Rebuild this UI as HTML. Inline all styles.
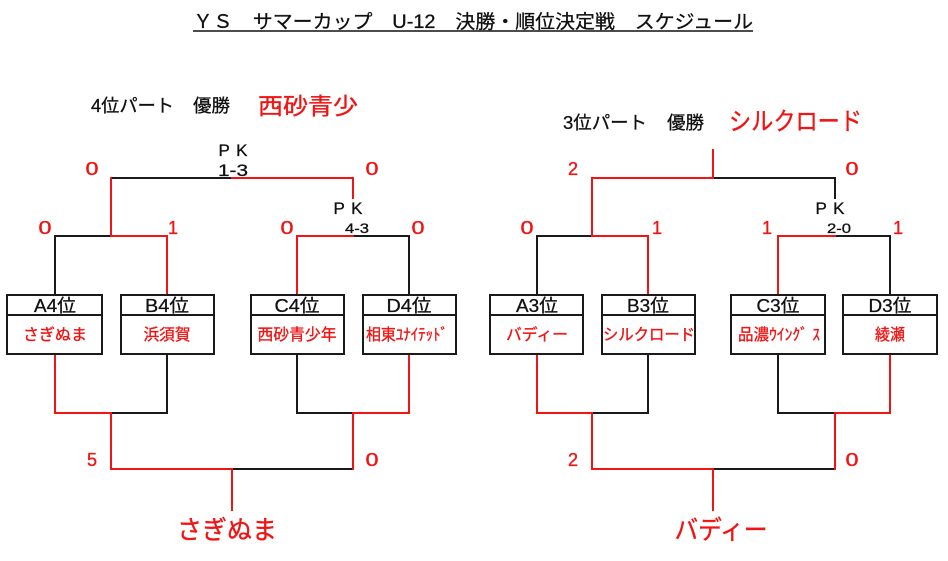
<!DOCTYPE html>
<html><head><meta charset="utf-8">
<style>
html,body{margin:0;padding:0;background:#fff;}
svg{display:block;}
text{font-family:"Liberation Sans","Noto Sans CJK JP",sans-serif;}
.r{fill:#f01414;stroke:#f01414;stroke-width:0.35;}
.k{fill:#111;stroke:#111;stroke-width:0.3;}
.lr{stroke:#f01414;stroke-width:2;fill:none;stroke-linecap:square;}
.lk{stroke:#1a1a1a;stroke-width:2;fill:none;stroke-linecap:square;}
.bx{stroke:#1a1a1a;stroke-width:2;fill:#fff;}
</style></head>
<body>
<svg width="948" height="561" viewBox="0 0 948 561" xmlns="http://www.w3.org/2000/svg">
<!-- Title -->
<text x="193" y="28" font-size="19" class="k" textLength="560" lengthAdjust="spacingAndGlyphs">ＹＳ　サマーカップ　U-12　決勝・順位決定戦　スケジュール</text>
<line x1="193" y1="31" x2="753" y2="31" stroke="#111" stroke-width="1.5"/>

<!-- Left header -->
<text x="91" y="112" font-size="18" class="k" textLength="83" lengthAdjust="spacingAndGlyphs">4位パート</text>
<text x="193" y="112" font-size="18" class="k" textLength="37" lengthAdjust="spacingAndGlyphs">優勝</text>
<text x="258" y="114" font-size="23" class="r" textLength="100" lengthAdjust="spacingAndGlyphs">西砂青少</text>

<!-- Right header -->
<text x="563" y="129" font-size="18" class="k" textLength="84" lengthAdjust="spacingAndGlyphs">3位パート</text>
<text x="667" y="129" font-size="18" class="k" textLength="37" lengthAdjust="spacingAndGlyphs">優勝</text>
<text x="729" y="130" font-size="25" class="r" textLength="133" lengthAdjust="spacingAndGlyphs">シルクロード</text>

<!-- LEFT BRACKET lines -->
<g class="lk">
<line x1="111" y1="178" x2="232" y2="178"/>
<line x1="55" y1="236" x2="111" y2="236"/>
<line x1="55" y1="236" x2="55" y2="295"/>
<line x1="353" y1="236" x2="409" y2="236"/>
<line x1="409" y1="236" x2="409" y2="295"/>
<line x1="111" y1="413" x2="167" y2="413"/>
<line x1="167" y1="354" x2="167" y2="413"/>
<line x1="297" y1="354" x2="297" y2="413"/>
<line x1="297" y1="413" x2="353" y2="413"/>
<line x1="232" y1="469" x2="353" y2="469"/>
</g>
<g class="lr">
<line x1="232" y1="178" x2="353" y2="178"/>
<line x1="353" y1="178" x2="353" y2="198"/>
<line x1="111" y1="178" x2="111" y2="236"/>
<line x1="111" y1="236" x2="167" y2="236"/>
<line x1="167" y1="236" x2="167" y2="295"/>
<line x1="297" y1="236" x2="353" y2="236"/>
<line x1="297" y1="236" x2="297" y2="295"/>
<line x1="55" y1="354" x2="55" y2="413"/>
<line x1="55" y1="413" x2="111" y2="413"/>
<line x1="353" y1="413" x2="409" y2="413"/>
<line x1="409" y1="354" x2="409" y2="413"/>
<line x1="111" y1="413" x2="111" y2="469"/>
<line x1="353" y1="413" x2="353" y2="469"/>
<line x1="111" y1="469" x2="232" y2="469"/>
<line x1="232" y1="469" x2="232" y2="510"/>
</g>

<!-- RIGHT BRACKET lines -->
<g class="lk">
<line x1="713" y1="178" x2="835" y2="178"/>
<line x1="835" y1="178" x2="835" y2="198"/>
<line x1="537" y1="236" x2="592" y2="236"/>
<line x1="537" y1="236" x2="537" y2="295"/>
<line x1="835" y1="236" x2="890" y2="236"/>
<line x1="890" y1="236" x2="890" y2="295"/>
<line x1="592" y1="413" x2="648" y2="413"/>
<line x1="648" y1="354" x2="648" y2="413"/>
<line x1="778" y1="354" x2="778" y2="413"/>
<line x1="778" y1="413" x2="835" y2="413"/>
<line x1="713" y1="469" x2="835" y2="469"/>
</g>
<g class="lr">
<line x1="713" y1="150" x2="713" y2="178"/>
<line x1="592" y1="178" x2="713" y2="178"/>
<line x1="592" y1="178" x2="592" y2="236"/>
<line x1="592" y1="236" x2="648" y2="236"/>
<line x1="648" y1="236" x2="648" y2="295"/>
<line x1="778" y1="236" x2="835" y2="236"/>
<line x1="778" y1="236" x2="778" y2="295"/>
<line x1="537" y1="354" x2="537" y2="413"/>
<line x1="537" y1="413" x2="592" y2="413"/>
<line x1="835" y1="413" x2="890" y2="413"/>
<line x1="890" y1="354" x2="890" y2="413"/>
<line x1="592" y1="413" x2="592" y2="469"/>
<line x1="835" y1="413" x2="835" y2="469"/>
<line x1="592" y1="469" x2="713" y2="469"/>
<line x1="713" y1="469" x2="713" y2="510"/>
</g>

<!-- Boxes -->
<g class="bx">
<rect x="7" y="295" width="95" height="59"/>
<rect x="121" y="295" width="93" height="59"/>
<rect x="251" y="295" width="93" height="59"/>
<rect x="363" y="295" width="93" height="59"/>
<rect x="490" y="295" width="93" height="59"/>
<rect x="602" y="295" width="93" height="59"/>
<rect x="731" y="295" width="94" height="59"/>
<rect x="843" y="295" width="94" height="59"/>
</g>
<g stroke="#1a1a1a" stroke-width="2">
<line x1="7" y1="315" x2="102" y2="315"/>
<line x1="121" y1="315" x2="214" y2="315"/>
<line x1="251" y1="315" x2="344" y2="315"/>
<line x1="363" y1="315" x2="456" y2="315"/>
<line x1="490" y1="315" x2="583" y2="315"/>
<line x1="602" y1="315" x2="695" y2="315"/>
<line x1="731" y1="315" x2="825" y2="315"/>
<line x1="843" y1="315" x2="937" y2="315"/>
</g>

<!-- Box header texts -->
<g class="k" font-size="18" text-anchor="middle">
<text x="55" y="312" textLength="42" lengthAdjust="spacingAndGlyphs">A4位</text>
<text x="167" y="312" textLength="44" lengthAdjust="spacingAndGlyphs">B4位</text>
<text x="297" y="312" textLength="45" lengthAdjust="spacingAndGlyphs">C4位</text>
<text x="409" y="312" textLength="45" lengthAdjust="spacingAndGlyphs">D4位</text>
<text x="537" y="312" textLength="42" lengthAdjust="spacingAndGlyphs">A3位</text>
<text x="648" y="312" textLength="42" lengthAdjust="spacingAndGlyphs">B3位</text>
<text x="778" y="312" textLength="43" lengthAdjust="spacingAndGlyphs">C3位</text>
<text x="890" y="312" textLength="43" lengthAdjust="spacingAndGlyphs">D3位</text>
</g>
<!-- Box names -->
<g class="r" font-size="16" text-anchor="middle">
<text x="55" y="340" textLength="64" lengthAdjust="spacingAndGlyphs">さぎぬま</text>
<text x="167" y="340" textLength="47" lengthAdjust="spacingAndGlyphs">浜須賀</text>
<text x="297" y="340" textLength="79" lengthAdjust="spacingAndGlyphs">西砂青少年</text>
<text x="407" y="340" textLength="82" lengthAdjust="spacingAndGlyphs">相東ﾕﾅｲﾃｯﾄﾞ</text>
<text x="537" y="340" textLength="62" lengthAdjust="spacingAndGlyphs">バディー</text>
<text x="649" y="340" textLength="92" lengthAdjust="spacingAndGlyphs">シルクロード</text>
<text x="779" y="340" textLength="82" lengthAdjust="spacingAndGlyphs">品濃ｳｲﾝｸﾞ ｽ</text>
<text x="890" y="340" textLength="30" lengthAdjust="spacingAndGlyphs">綾瀬</text>
</g>

<!-- Score labels -->
<g class="r" font-size="18" text-anchor="middle">
<text x="92" y="175" textLength="13" lengthAdjust="spacingAndGlyphs">0</text>
<text x="372" y="175" textLength="13" lengthAdjust="spacingAndGlyphs">0</text>
<text x="45" y="234" textLength="13" lengthAdjust="spacingAndGlyphs">0</text>
<text x="173" y="234">1</text>
<text x="287" y="234" textLength="13" lengthAdjust="spacingAndGlyphs">0</text>
<text x="418" y="234" textLength="13" lengthAdjust="spacingAndGlyphs">0</text>
<text x="92" y="466">5</text>
<text x="372" y="466" textLength="13" lengthAdjust="spacingAndGlyphs">0</text>

<text x="573" y="175">2</text>
<text x="852" y="175" textLength="13" lengthAdjust="spacingAndGlyphs">0</text>
<text x="527" y="234" textLength="13" lengthAdjust="spacingAndGlyphs">0</text>
<text x="657" y="234">1</text>
<text x="767" y="234">1</text>
<text x="898" y="234">1</text>
<text x="573" y="466">2</text>
<text x="852" y="466" textLength="13" lengthAdjust="spacingAndGlyphs">0</text>
</g>
<!-- PK labels -->
<g class="k" text-anchor="middle">
<text x="233" y="156" font-size="17" textLength="29" lengthAdjust="spacing">PK</text>
<text x="233" y="176" font-size="17" textLength="30" lengthAdjust="spacingAndGlyphs">1-3</text>
<text x="348" y="214" font-size="17" textLength="29" lengthAdjust="spacing">PK</text>
<text x="357" y="233" font-size="14" textLength="24" lengthAdjust="spacingAndGlyphs">4-3</text>
<text x="830" y="214" font-size="17" textLength="29" lengthAdjust="spacing">PK</text>
<text x="839" y="233" font-size="14" textLength="24" lengthAdjust="spacingAndGlyphs">2-0</text>
</g>

<!-- Winners -->
<text x="227" y="539" font-size="26" class="r" text-anchor="middle" textLength="100" lengthAdjust="spacingAndGlyphs">さぎぬま</text>
<text x="721" y="539" font-size="26" class="r" text-anchor="middle" textLength="93" lengthAdjust="spacingAndGlyphs">バディー</text>
</svg>
</body></html>
